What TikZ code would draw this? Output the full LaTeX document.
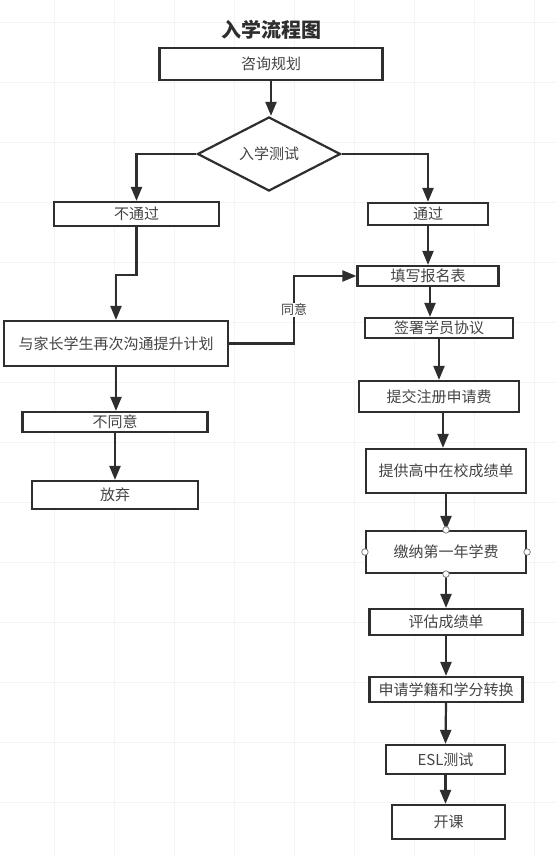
\documentclass[tikz,border=0pt]{standalone}
\usepackage{fontspec}
\setmainfont{Noto Sans CJK SC}
\usetikzlibrary{shapes.geometric,arrows.meta}
\definecolor{linegray}{HTML}{2E2E2E}
\definecolor{textgray}{HTML}{444444}
\definecolor{gridgray}{HTML}{F4F4F4}
\tikzset{
    box/.style ={
        shape=rectangle,
        draw=linegray,
        line width=2.2pt,
        fill=white,
        text=textgray,
        inner sep=0pt,
        font=\fontsize{15}{18}\selectfont
    },
    decision/.style ={
        shape=diamond,
        draw=linegray,
        line width=2.2pt,
        fill=white,
        text=textgray,
        inner sep=0pt,
        font=\fontsize{15}{18}\selectfont
    },
    arr/.style ={
        draw=linegray,
        line width=2.2pt,
        -{Triangle[length=14pt,width=11pt]}
    },
    handle/.style ={
        shape=circle,
        draw=gray,
        fill=white,
        line width=0.8pt,
        inner sep=0pt,
        minimum size=6.5pt
    },
    lbl/.style ={
        fill=white,
        text=textgray,
        inner sep=1pt,
        font=\fontsize{13}{15}\selectfont
    }
}

\begin{document}
\begin{tikzpicture}[x=1pt,y=-1pt]
    \useasboundingbox[fill=white] (0,0) rectangle (556,856);
    % background grid
    \foreach \gx in {54,114,...,534}
        \draw[gridgray,line width=0.5pt] (\gx,0) -- (\gx,856);
    \foreach \gy in {22,82,...,862}
        \draw[gridgray,line width=0.5pt] (0,\gy) -- (556,\gy);

    \node[font=\fontsize{20}{24}\selectfont\bfseries,text=linegray] (title) at (271,30) {入学流程图};
    \node[box,minimum width=223pt,minimum height=32pt] (zixun) at (271,64) {咨询规划};
    \node[decision,minimum width=143pt,minimum height=74pt] (ceshi) at (269,154) {入学测试};
    % left branch
    \node[box,minimum width=165pt,minimum height=24pt] (butongguo) at (136.5,214) {不通过};
    \node[box,minimum width=224pt,minimum height=45pt] (goutong) at (116,343.5) {与家长学生再次沟通提升计划};
    \node[box,minimum width=185pt,minimum height=20pt] (butongyi) at (115,422) {不同意};
    \node[box,minimum width=166pt,minimum height=28pt] (fangqi) at (115,495) {放弃};
    % right branch
    \node[box,minimum width=120pt,minimum height=22pt] (tongguo) at (428,214) {通过};
    \node[box,minimum width=141pt,minimum height=20pt] (tianxie) at (428,276) {填写报名表};
    \node[box,minimum width=148pt,minimum height=20pt] (qianshu) at (439,328) {签署学员协议};
    \node[box,minimum width=160pt,minimum height=31pt] (tijiao) at (439,396.5) {提交注册申请费};
    \node[box,minimum width=160pt,minimum height=44pt] (tigong) at (446,471) {提供高中在校成绩单};
    \node[box,minimum width=160pt,minimum height=42pt] (jiaona) at (446,552) {缴纳第一年学费};
    \node[box,minimum width=153pt,minimum height=26pt] (pinggu) at (446,622) {评估成绩单};
    \node[box,minimum width=153pt,minimum height=25pt] (shenqing) at (446,689.5) {申请学籍和学分转换};
    \node[box,minimum width=119pt,minimum height=29pt] (esl) at (445.5,759.5) {ESL测试};
    \node[box,minimum width=113pt,minimum height=34pt] (kaike) at (448.5,822) {开课};

    \draw[arr] (zixun.south) -- (zixun.south |- ceshi.north);
    \draw[arr] (ceshi.west) -| (butongguo.north);
    \draw[arr] (ceshi.east) -| (tongguo.north);
    \draw[arr] (butongguo.south) -- ++(0,48) -| (goutong.north);
    \draw[arr] (goutong.east) -- ++(65,0) |- (tianxie.west) node[lbl,pos=0.25] {同意};
    \draw[arr] (goutong.south) -- (goutong.south |- butongyi.north);
    \draw[arr] (butongyi.south) -- (fangqi.north);
    \draw[arr] (tongguo.south) -- (tianxie.north);
    \draw[arr] (tianxie.south) ++(2,0) coordinate (txout) -- (txout |- qianshu.north);
    \draw[arr] (qianshu.south) -- (tijiao.north);
    \draw[arr] (tijiao.south) ++(4,0) coordinate (tjout) -- (tjout |- tigong.north);
    \draw[arr] (tigong.south) -- (jiaona.north);
    \draw[arr] (jiaona.south) -- (pinggu.north);
    \draw[arr] (pinggu.south) -- (shenqing.north);
    \draw[arr] (shenqing.south) -- (esl.north);
    \draw[arr] (esl.south) -- (esl.south |- kaike.north);
    % selection handles
    \foreach \an in {north,south,east,west}
        \node[handle] at (jiaona.\an) {};
\end{tikzpicture}
\end{document}
